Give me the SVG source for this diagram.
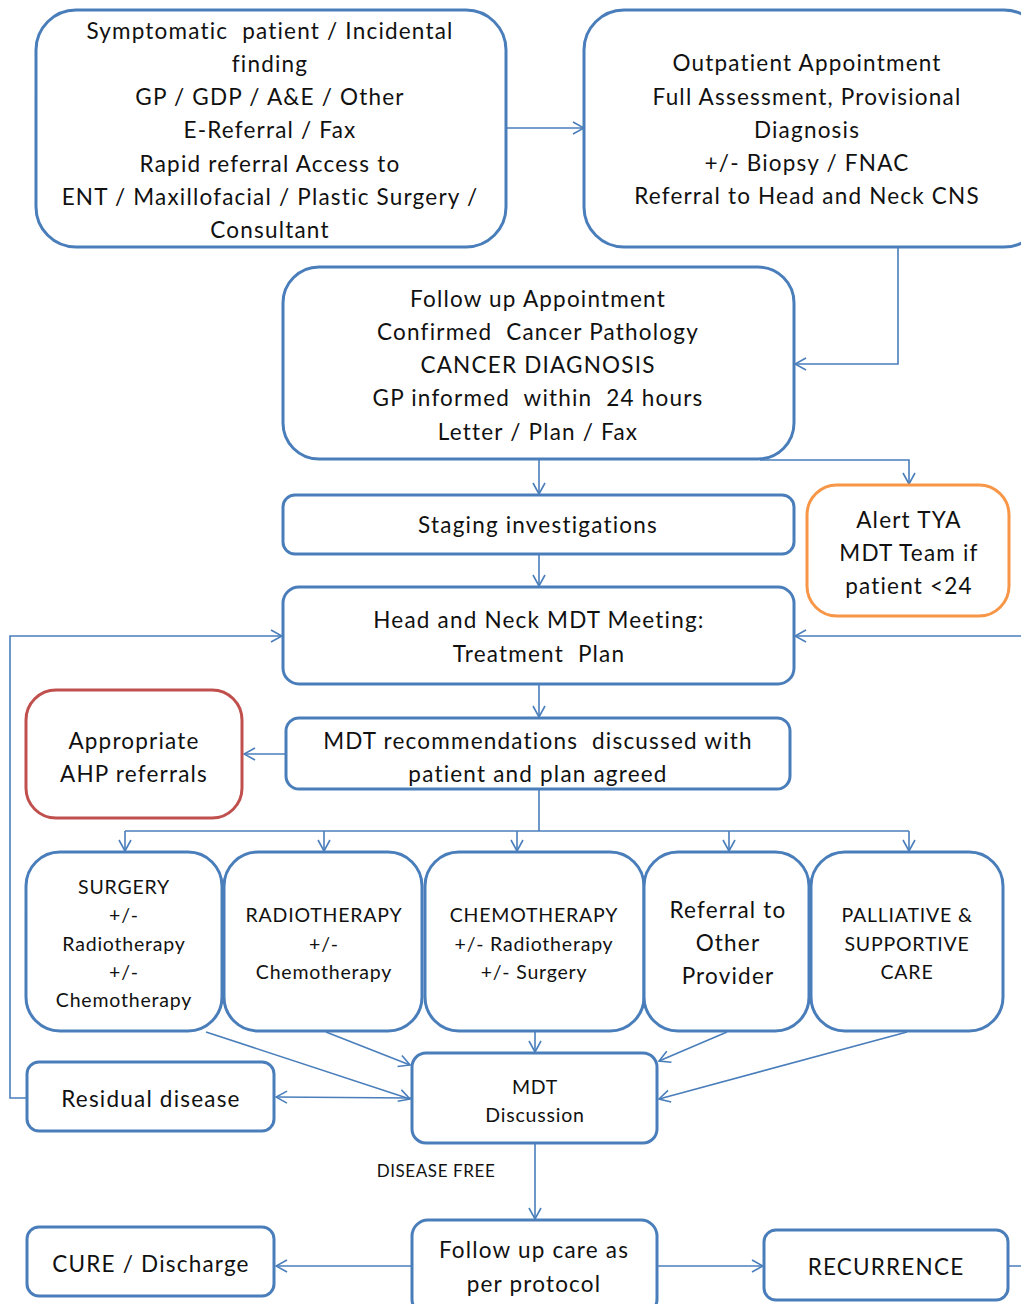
<svg xmlns="http://www.w3.org/2000/svg" width="1021" height="1304" viewBox="0 0 1021 1304" xml:space="preserve">
<defs>
<marker id="arr" markerUnits="userSpaceOnUse" markerWidth="14" markerHeight="14" viewBox="0 0 14 14" refX="13" refY="7" orient="auto">
<path d="M2,1 L13,7 L2,13" fill="none" stroke="#4A7EBB" stroke-width="1.6"/>
</marker>
</defs>
<style>
.box{fill:#fff;stroke:#4A7EBB;stroke-width:3}
.red{fill:#fff;stroke:#C0504D;stroke-width:3}
.org{fill:#fff;stroke:#F79646;stroke-width:3}
.c{fill:none;stroke:#4A7EBB;stroke-width:1.6}
.a{marker-end:url(#arr)}
text{font-family:Lato,"Open Sans","Liberation Sans",sans-serif;fill:#111;text-anchor:middle;dominant-baseline:central;white-space:pre}
.t22{font-size:22.5px;letter-spacing:1.2px}
.t20{font-size:19.5px;letter-spacing:0.8px}
.t17{font-size:17px;letter-spacing:0.6px}
</style>
<rect width="1021" height="1304" fill="#fff"/>
<g id="connectors">
<line class="c a" x1="506" y1="128" x2="584" y2="128"/>
<polyline class="c a" points="898,247 898,364 795,364"/>
<line class="c a" x1="539" y1="459" x2="539" y2="494"/>
<polyline class="c a" points="760,460 909,460 909,484"/>
<line class="c a" x1="539" y1="554" x2="539" y2="586"/>
<polyline class="c a" points="27,1098 10,1098 10,636 282,636"/>
<polyline class="c a" points="1008,1266 1040,1266 1040,636 795,636"/>
<line class="c a" x1="539" y1="684" x2="539" y2="717"/>
<line class="c a" x1="286" y1="754" x2="244" y2="754"/>
<polyline class="c" points="539,789 539,831"/>
<line class="c" x1="125" y1="831" x2="909" y2="831"/>
<line class="c a" x1="125" y1="831" x2="125" y2="851"/>
<line class="c a" x1="324" y1="831" x2="324" y2="851"/>
<line class="c a" x1="517" y1="831" x2="517" y2="851"/>
<line class="c a" x1="729" y1="831" x2="729" y2="851"/>
<line class="c a" x1="909" y1="831" x2="909" y2="851"/>
<line class="c a" x1="206" y1="1032" x2="410" y2="1099"/>
<line class="c a" x1="326" y1="1032" x2="410" y2="1065"/>
<line class="c a" x1="535" y1="1032" x2="535" y2="1052"/>
<line class="c a" x1="727" y1="1032" x2="659" y2="1061"/>
<line class="c a" x1="907" y1="1032" x2="659" y2="1099"/>
<line class="c a" x1="411" y1="1098" x2="276" y2="1097"/>
<line class="c a" x1="535" y1="1143" x2="535" y2="1219"/>
<line class="c a" x1="412" y1="1266" x2="276" y2="1266"/>
<line class="c a" x1="657" y1="1266" x2="763" y2="1266"/>
</g>
<g id="n1"><rect class="box" x="36" y="10" width="470" height="237" rx="40"/>
<text class="t22" x="270" y="30">Symptomatic  patient / Incidental</text>
<text class="t22" x="270" y="63">finding</text>
<text class="t22" x="270" y="96">GP / GDP / A&amp;E / Other</text>
<text class="t22" x="270" y="129">E-Referral / Fax</text>
<text class="t22" x="270" y="163">Rapid referral Access to</text>
<text class="t22" x="270" y="196">ENT / Maxillofacial / Plastic Surgery /</text>
<text class="t22" x="270" y="229">Consultant</text></g>
<g id="n2"><rect class="box" x="584" y="10" width="460" height="237" rx="40"/>
<text class="t22" x="807" y="62">Outpatient Appointment</text>
<text class="t22" x="807" y="96">Full Assessment, Provisional</text>
<text class="t22" x="807" y="129">Diagnosis</text>
<text class="t22" x="807" y="162">+/- Biopsy / FNAC</text>
<text class="t22" x="807" y="195">Referral to Head and Neck CNS</text></g>
<g id="n3"><rect class="box" x="283" y="267" width="511" height="192" rx="36"/>
<text class="t22" x="538" y="298">Follow up Appointment</text>
<text class="t22" x="538" y="331">Confirmed  Cancer Pathology</text>
<text class="t22" x="538" y="364">CANCER DIAGNOSIS</text>
<text class="t22" x="538" y="397">GP informed  within  24 hours</text>
<text class="t22" x="538" y="431">Letter / Plan / Fax</text></g>
<g id="n4"><rect class="box" x="283" y="495" width="511" height="59" rx="12"/>
<text class="t22" x="538" y="524">Staging investigations</text></g>
<g id="n5"><rect class="org" x="807" y="485" width="202" height="131" rx="30"/>
<text class="t22" x="909" y="519">Alert TYA</text>
<text class="t22" x="909" y="552">MDT Team if</text>
<text class="t22" x="909" y="585">patient &lt;24</text></g>
<g id="n6"><rect class="box" x="283" y="587" width="511" height="97" rx="16"/>
<text class="t22" x="539" y="619">Head and Neck MDT Meeting:</text>
<text class="t22" x="539" y="653">Treatment  Plan</text></g>
<g id="n7"><rect class="box" x="286" y="718" width="504" height="71" rx="13"/>
<text class="t22" x="538" y="740">MDT recommendations  discussed with</text>
<text class="t22" x="538" y="773">patient and plan agreed</text></g>
<g id="n8"><rect class="red" x="26" y="690" width="216" height="128" rx="30"/>
<text class="t22" x="134" y="740">Appropriate</text>
<text class="t22" x="134" y="773">AHP referrals</text></g>
<g id="n9"><rect class="box" x="26" y="852" width="196" height="179" rx="34"/>
<text class="t20" x="124" y="886">SURGERY</text>
<text class="t20" x="124" y="914">+/-</text>
<text class="t20" x="124" y="943">Radiotherapy</text>
<text class="t20" x="124" y="971">+/-</text>
<text class="t20" x="124" y="999">Chemotherapy</text></g>
<g id="n10"><rect class="box" x="224" y="852" width="198" height="179" rx="34"/>
<text class="t20" x="324" y="914">RADIOTHERAPY</text>
<text class="t20" x="324" y="943">+/-</text>
<text class="t20" x="324" y="971">Chemotherapy</text></g>
<g id="n11"><rect class="box" x="425" y="852" width="219" height="179" rx="34"/>
<text class="t20" x="534" y="914">CHEMOTHERAPY</text>
<text class="t20" x="534" y="943">+/- Radiotherapy</text>
<text class="t20" x="534" y="971">+/- Surgery</text></g>
<g id="n12"><rect class="box" x="644" y="852" width="165" height="179" rx="34"/>
<text class="t22" x="728" y="909">Referral to</text>
<text class="t22" x="728" y="942">Other</text>
<text class="t22" x="728" y="975">Provider</text></g>
<g id="n13"><rect class="box" x="811" y="852" width="192" height="179" rx="34"/>
<text class="t20" x="907" y="914">PALLIATIVE &amp;</text>
<text class="t20" x="907" y="943">SUPPORTIVE</text>
<text class="t20" x="907" y="971">CARE</text></g>
<g id="n14"><rect class="box" x="412" y="1053" width="245" height="90" rx="14"/>
<text class="t20" x="535" y="1086">MDT</text>
<text class="t20" x="535" y="1114">Discussion</text></g>
<g id="n15"><rect class="box" x="27" y="1062" width="247" height="69" rx="12"/>
<text class="t22" x="151" y="1098">Residual disease</text></g>
<g id="n16"><text class="t17" x="436" y="1170">DISEASE FREE</text></g>
<g id="n17"><rect class="box" x="412" y="1220" width="245" height="95" rx="16"/>
<text class="t22" x="534" y="1249">Follow up care as</text>
<text class="t22" x="534" y="1283">per protocol</text></g>
<g id="n18"><rect class="box" x="27" y="1227" width="247" height="69" rx="12"/>
<text class="t22" x="151" y="1263">CURE / Discharge</text></g>
<g id="n19"><rect class="box" x="764" y="1230" width="244" height="70" rx="12"/>
<text class="t22" x="886" y="1266">RECURRENCE</text></g>
</svg>
